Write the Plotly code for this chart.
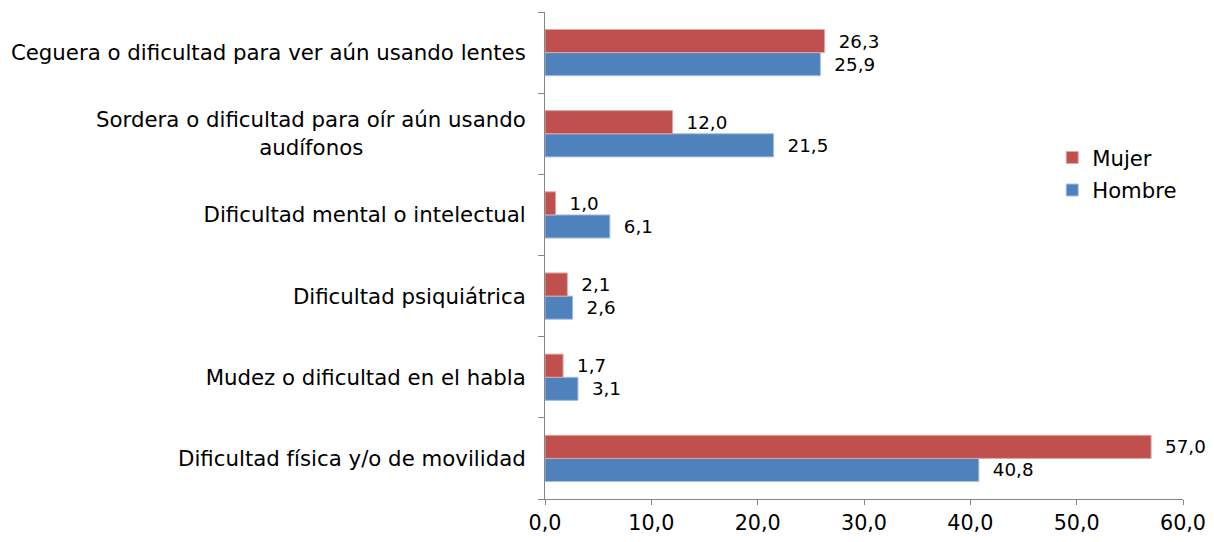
import plotly.graph_objects as go

NB = "\u00a0"
categorias = [
    "Dificultad física y/o de movilidad",
    "Mudez o dificultad en el habla",
    "Dificultad psiquiátrica",
    "Dificultad mental o intelectual",
    "Sordera o dificultad para oír aún usando<br>audífonos" + NB * 24,
    "Ceguera o dificultad para ver aún usando lentes",
]
hombre = [40.8, 3.1, 2.6, 6.1, 21.5, 25.9]
mujer = [57.0, 1.7, 2.1, 1.0, 12.0, 26.3]
ticks_x = [0, 10, 20, 30, 40, 50, 60]

AX = "#868686"
FONT = "DejaVu Sans"
label_tpl = "\u2002\u200a%{x:.1f}"

fig = go.Figure()
fig.add_trace(go.Bar(
    y=categorias, x=hombre, name="Hombre", orientation="h",
    marker=dict(color="#4F81BD", line=dict(color="#A7C0DE", width=1)),
    texttemplate=label_tpl, textposition="outside", cliponaxis=False,
    textfont=dict(family=FONT, size=18.3, color="#000000"),
    legendgroup="h", legendrank=2,
))
fig.add_trace(go.Bar(
    y=categorias, x=mujer, name="Mujer", orientation="h",
    marker=dict(color="#C0504D", line=dict(color="#DFA8A6", width=1)),
    texttemplate=label_tpl, textposition="outside", cliponaxis=False,
    textfont=dict(family=FONT, size=18.3, color="#000000"),
    legendgroup="m", legendrank=1,
))

fig.update_layout(
    width=1206, height=526,
    margin=dict(l=537, r=31, t=4, b=35, autoexpand=False),
    paper_bgcolor="white", plot_bgcolor="white",
    barmode="group", bargap=0.43, bargroupgap=0,
    separators=",.",
    font=dict(family=FONT, size=21, color="#000000"),
    legend=dict(
        x=0.795, y=0.743, xanchor="left", yanchor="top",
        traceorder="grouped", tracegroupgap=2,
        font=dict(family=FONT, size=21.2, color="#000000"),
        itemwidth=30, bgcolor="rgba(0,0,0,0)",
    ),
    showlegend=True,
)
fig.update_xaxes(
    range=[0, 60], tickvals=ticks_x, tickformat=".1f",
    showgrid=False, zeroline=False,
    showline=True, linecolor=AX, linewidth=1,
    ticks="outside", ticklen=5, tickcolor=AX,
    ticklabeloverflow="allow",
    tickfont=dict(family=FONT, size=20.7, color="#000000"),
)
fig.update_yaxes(
    type="category", categoryorder="array", categoryarray=categorias,
    showgrid=False, zeroline=False,
    showline=True, linecolor=AX, linewidth=1,
    ticks="outside", ticklen=6, tickcolor=AX, tickson="boundaries",
    ticklabelstandoff=14,
    tickfont=dict(family=FONT, size=21.3, color="#000000"),
)

fig.write_html("out.html")
